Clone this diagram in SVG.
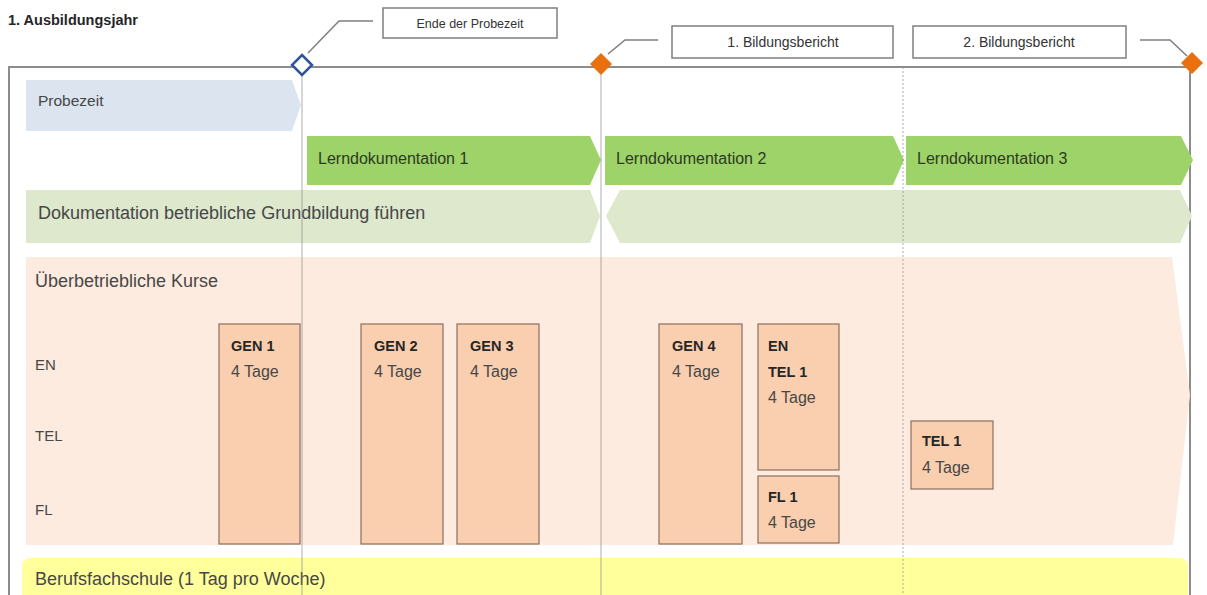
<svg xmlns="http://www.w3.org/2000/svg" width="1207" height="595" viewBox="0 0 1207 595">
<style>
text{font-family:"Liberation Sans",Arial,sans-serif;fill:#474747}
.lbl{font-size:16px}
.big{font-size:18px}
.bx{font-size:15px}
.b{font-weight:bold;font-size:14.5px;fill:#262626}
.call{font-size:12.5px;fill:#333}
.call2{font-size:14px;fill:#333}
.cbox{fill:#fff;stroke:#7f7f7f;stroke-width:1.5}
.course{fill:#F9CFAF;stroke:#8a6f5e;stroke-width:1.2}
.green{fill:#9ED36A}
.lgreen{fill:#DDE8CD}
.sep{stroke:#8c8c8c;stroke-width:1;opacity:0.7}
.frame{stroke:#8c8c8c;stroke-width:2;fill:none}
.cl{stroke:#7f7f7f;stroke-width:1.5;fill:none}
</style>
<rect width="1207" height="595" fill="#fff"/>
<g id="title"><text x="8" y="25" style="font-size:14.5px;font-weight:bold;fill:#262626">1. Ausbildungsjahr</text></g>
<g id="frame">
<path class="frame" d="M9,595 V67 H1190 V595"/>
</g>
<g id="probezeit">
<polygon points="26,80 292,80 301,105 292,131 26,131" fill="#DCE4F0"/>
<text class="lbl" x="38" y="106" style="font-size:15.5px">Probezeit</text>
</g>
<g id="lerndok1">
<polygon class="green" points="307,136 590,136 601,160 590,185 307,185"/>
<text class="lbl" x="318" y="164" style="fill:#2c3a1f">Lerndokumentation 1</text>
</g>
<g id="lerndok2">
<polygon class="green" points="605,136 893,136 904,160 893,185 605,185"/>
<text class="lbl" x="616" y="164" style="fill:#2c3a1f">Lerndokumentation 2</text>
</g>
<g id="lerndok3">
<polygon class="green" points="906,136 1181,136 1193,160 1181,185 906,185"/>
<text class="lbl" x="917" y="164" style="fill:#2c3a1f">Lerndokumentation 3</text>
</g>
<g id="dokumentation">
<polygon class="lgreen" points="26,190 590,190 600,216 590,243 26,243"/>
<polygon class="lgreen" points="620,190 1180,190 1192,216 1180,243 620,243 606,216"/>
<text class="big" x="38" y="219">Dokumentation betriebliche Grundbildung führen</text>
</g>
<g id="uek">
<polygon points="26,257 1172,257 1190,395 1173,545 26,545" fill="#FDEBDF"/>
<text class="big" x="35" y="287">Überbetriebliche Kurse</text>
<text class="bx" x="35" y="370">EN</text>
<text class="bx" x="35" y="441">TEL</text>
<text class="bx" x="35" y="515">FL</text>
</g>
<g id="gen1">
<rect class="course" x="219" y="324" width="81" height="220"/>
<text class="b" x="231" y="351">GEN 1</text>
<text class="bx" x="231" y="377" style="font-size:16px">4 Tage</text>
</g>
<g id="gen2">
<rect class="course" x="361" y="324" width="82" height="220"/>
<text class="b" x="374" y="351">GEN 2</text>
<text class="bx" x="374" y="377" style="font-size:16px">4 Tage</text>
</g>
<g id="gen3">
<rect class="course" x="457" y="324" width="82" height="220"/>
<text class="b" x="470" y="351">GEN 3</text>
<text class="bx" x="470" y="377" style="font-size:16px">4 Tage</text>
</g>
<g id="gen4">
<rect class="course" x="659" y="324" width="83" height="220"/>
<text class="b" x="672" y="351">GEN 4</text>
<text class="bx" x="672" y="377" style="font-size:16px">4 Tage</text>
</g>
<g id="entel1">
<rect class="course" x="758" y="324" width="81" height="146"/>
<text class="b" x="768" y="351">EN</text>
<text class="b" x="768" y="377">TEL 1</text>
<text class="bx" x="768" y="403" style="font-size:16px">4 Tage</text>
</g>
<g id="fl1">
<rect class="course" x="758" y="476" width="81" height="67"/>
<text class="b" x="768" y="502">FL 1</text>
<text class="bx" x="768" y="528" style="font-size:16px">4 Tage</text>
</g>
<g id="tel1">
<rect class="course" x="911" y="421" width="82" height="68"/>
<text class="b" x="922" y="446">TEL 1</text>
<text class="bx" x="922" y="473" style="font-size:16px">4 Tage</text>
</g>
<g id="berufsfachschule">
<rect x="22" y="558" width="1166" height="50" rx="8" fill="#FFFF9C"/>
<text class="big" x="35" y="585">Berufsfachschule (1 Tag pro Woche)</text>
</g>
<g id="connectors">
<line class="sep" x1="302" y1="75" x2="302" y2="595"/>
<line class="sep" x1="601" y1="72" x2="601" y2="595"/>
<line class="sep" x1="903" y1="67" x2="903" y2="595" stroke-dasharray="2,2"/>
<polyline class="cl" points="308,53 339,21 373,21"/>
<polyline class="cl" points="608,54 625,40 658,40"/>
<polyline class="cl" points="1140,40 1170,40 1187,56"/>
</g>
<g id="ende-probezeit">
<rect class="cbox" x="383" y="8" width="174" height="30"/>
<text class="call" x="470" y="28" text-anchor="middle">Ende der Probezeit</text>
</g>
<g id="bericht1">
<rect class="cbox" x="672" y="26" width="221" height="32"/>
<text class="call2" x="783" y="47" text-anchor="middle">1. Bildungsbericht</text>
</g>
<g id="bericht2">
<rect class="cbox" x="913" y="26" width="213" height="32"/>
<text class="call2" x="1019" y="47" text-anchor="middle">2. Bildungsbericht</text>
</g>
<g id="milestone1">
<polygon points="302,55 312,65 302,75 292,65" fill="#fff" stroke="#2F5597" stroke-width="2.5"/>
</g>
<g id="milestone2">
<polygon points="601,53 612,64 601,75 590,64" fill="#E8700E"/>
</g>
<g id="milestone3">
<polygon points="1192,52 1203,63 1192,74 1181,63" fill="#E8700E"/>
</g>
</svg>
